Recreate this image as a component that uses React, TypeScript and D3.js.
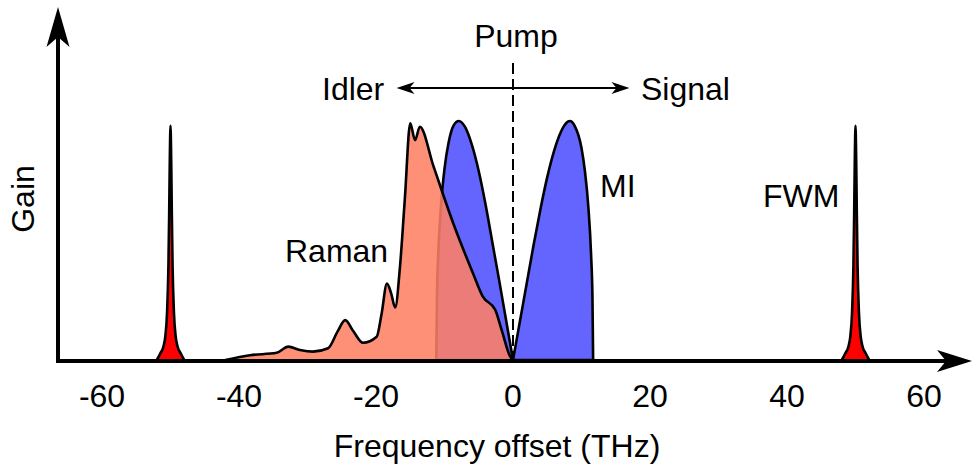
import React from 'react';
import * as d3 from 'd3';

// ---- data ----
const xTicks = [-60, -40, -20, 0, 20, 40, 60];

const ramanX = [-42, -38.4, -34.5, -32.8, -31.1, -29.2, -27.0, -25.6, -24.5, -23.3, -21.9, -19.9, -19.2, -18.4, -17.8, -17.2, -16.5, -15.8, -15.0, -14.3, -13.6, -11.6, -8.7, -5.8, -4.4, -2.6, -1.65, -0.4, 0];
const ramanGain = [0, 0.02, 0.03, 0.056, 0.042, 0.035, 0.049, 0.12, 0.167, 0.12, 0.072, 0.097, 0.19, 0.32, 0.28, 0.22, 0.39, 0.67, 0.99, 0.92, 0.976, 0.81, 0.57, 0.36, 0.265, 0.21, 0.125, 0.014, 0];

const miLeftX = [-11.2, -11.1, -10.9, -10.5, -10.0, -9.4, -8.7, -7.9, -7.0, -6.0, -5.0, -4.0, -3.0, -2.0, -1.0, 0];
const miLeftGain = [0, 0.26, 0.45, 0.65, 0.8, 0.91, 0.98, 1.0, 0.975, 0.9, 0.79, 0.65, 0.49, 0.33, 0.165, 0];

const miRightX = [0, 1, 2, 3, 4, 5, 6, 7, 8, 8.3, 9, 10, 10.5, 11, 11.4, 11.6, 11.7];
const miRightGain = [0, 0.16, 0.32, 0.48, 0.63, 0.765, 0.875, 0.955, 0.997, 1.0, 0.98, 0.887, 0.79, 0.64, 0.44, 0.26, 0];

const fwmCenters = [-50, 50];
const fwmOffsets = [-2, -1.5, -1, -0.75, -0.5, -0.3, -0.2, -0.1, 0, 0.1, 0.2, 0.3, 0.5, 0.75, 1, 1.5, 2];
const fwmShape = [0, 0.027, 0.06, 0.1, 0.2, 0.4, 0.6, 0.84, 0.98, 0.84, 0.6, 0.4, 0.2, 0.1, 0.06, 0.027, 0];

const arrowSpan = [-17, 17];

const FONT = 'Liberation Sans, Arial, Helvetica, sans-serif';

export default function App() {
  const W = 972, H = 468;
  const x = d3.scaleLinear().domain([-60, 60]).range([102, 924]);
  const y = d3.scaleLinear().domain([0, 1]).range([360, 121]);
  const x0 = 58, y0 = 361;

  const area = d3.area<[number, number]>()
    .x(d => x(d[0])).y0(y(0)).y1(d => y(d[1]))
    .curve(d3.curveMonotoneX);
  const line = d3.line<[number, number]>()
    .x(d => x(d[0])).y(d => y(d[1]))
    .curve(d3.curveMonotoneX);

  const raman = ramanX.map((v, i) => [v, ramanGain[i]] as [number, number]);
  const miL = miLeftX.map((v, i) => [v, miLeftGain[i]] as [number, number]);
  const miR = miRightX.map((v, i) => [v, miRightGain[i]] as [number, number]);
  const fwm = fwmCenters.map(c => fwmOffsets.map((o, i) => [c + o, fwmShape[i]] as [number, number]));

  const fs = 32;
  const ay = 88;
  const xl = x(arrowSpan[0]), xr = x(arrowSpan[1]);

  return (
    <svg width={W} height={H} style={{ position: 'absolute', left: 0, top: 0 }} fontFamily={FONT}>
      <rect width={W} height={H} fill="#fff" />
      {fwm.map((p, i) => (
        <g key={i}>
          <path d={area(p) || ''} fill="#FF0000" />
          <path d={line(p) || ''} fill="none" stroke="#000" strokeWidth={2.6} strokeLinejoin="round" />
        </g>
      ))}
      <path d={area(miL) || ''} fill="#6464FF" stroke="#000" strokeWidth={2.6} strokeLinejoin="round" />
      <path d={area(miR) || ''} fill="#6464FF" stroke="#000" strokeWidth={2.6} strokeLinejoin="round" />
      <path d={area(raman) || ''} fill="#FF8064" fillOpacity={0.87} />
      <path d={line(raman) || ''} fill="none" stroke="#000" strokeWidth={2.6} strokeLinejoin="round" />

      {/* axes */}
      <line x1={x0} x2={950} y1={y0} y2={y0} stroke="#000" strokeWidth={4} />
      <line x1={x0} x2={x0} y1={y0 + 2} y2={30} stroke="#000" strokeWidth={4} />
      <path d={`M972,${y0} L937,${y0 - 11} L946,${y0} L937,${y0 + 11} Z`} fill="#000" />
      <path d={`M${x0},7 L${x0 - 11.5},47 L${x0},37 L${x0 + 11.5},47 Z`} fill="#000" />

      {/* pump line */}
      <line x1={x(0)} x2={x(0)} y1={63} y2={360} stroke="#000" strokeWidth={2} strokeDasharray="11,5" />
      <line x1={xl + 4} x2={xr - 4} y1={ay} y2={ay} stroke="#000" strokeWidth={2} />
      <path d={`M${xl},${ay} L${xl + 18},${ay - 6} L${xl + 13},${ay} L${xl + 18},${ay + 6} Z`} fill="#000" />
      <path d={`M${xr},${ay} L${xr - 18},${ay - 6} L${xr - 13},${ay} L${xr - 18},${ay + 6} Z`} fill="#000" />

      {/* tick labels */}
      {xTicks.map(t => (
        <text key={t} x={x(t)} y={407} fontSize={fs} textAnchor="middle">{t}</text>
      ))}
      <text x={497} y={457} fontSize={fs} textAnchor="middle">Frequency offset (THz)</text>
      <text transform="translate(34,199) rotate(-90)" fontSize={fs} textAnchor="middle">Gain</text>
      <text x={516} y={47} fontSize={fs} textAnchor="middle">Pump</text>
      <text x={322} y={100} fontSize={fs}>Idler</text>
      <text x={641} y={100} fontSize={fs}>Signal</text>
      <text x={600} y={197} fontSize={fs}>MI</text>
      <text x={763} y={207} fontSize={fs}>FWM</text>
      <text x={285} y={262} fontSize={fs}>Raman</text>
    </svg>
  );
}
